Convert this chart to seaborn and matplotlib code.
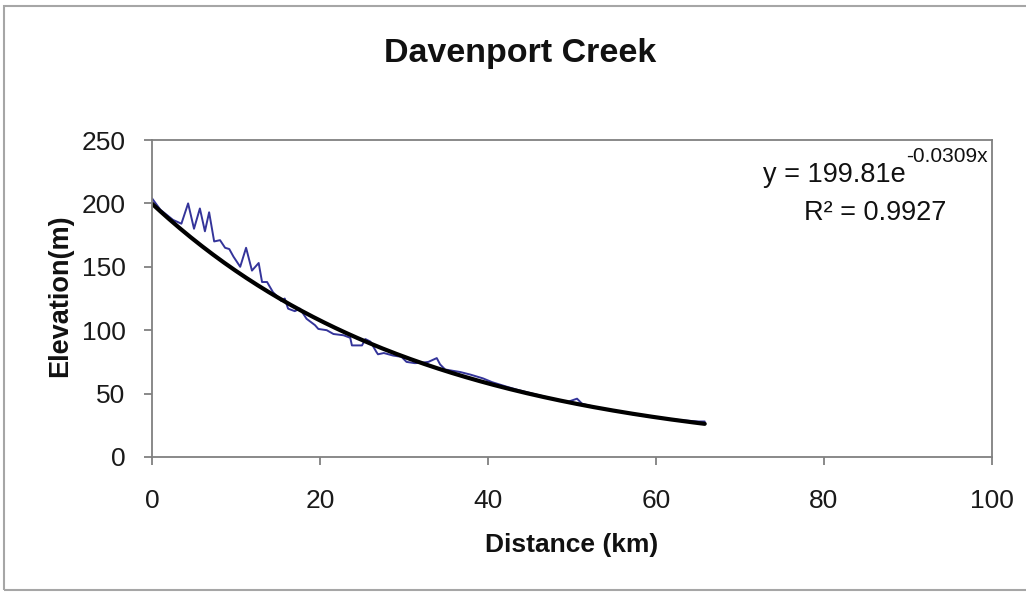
import matplotlib

matplotlib.use("Agg")

import matplotlib.pyplot as plt
import numpy as np
import seaborn as sns
from matplotlib.patches import Rectangle

# Davenport Creek long profile
distance_km = [
    0, 1, 2.5, 3.5, 4.3, 5.0, 5.7, 6.3, 6.8, 7.4, 8.1, 8.7, 9.2, 9.7, 10.5,
    11.2, 11.9, 12.7, 13.1, 13.7, 14.4, 15.0, 15.4, 15.8, 16.2, 17.0, 17.6,
    18.4, 19.4, 19.8, 20.8, 21.6, 22.8, 23.6, 23.8, 25.0, 25.4, 26.0, 26.7,
    26.9, 27.6, 28.7, 29.7, 30.3, 31.3, 32.3, 32.9, 33.9, 34.3, 34.9, 35.8,
    36.7, 37.9, 39.4, 40.5, 42.2, 43.5, 45.0, 46.5, 48.0, 49.5, 50.6, 51.2,
    53.0, 55.0, 57.0, 59.0, 61.0, 63.0, 65.0, 65.8,
]
elevation_m = [
    204, 195, 187, 184, 200, 180, 196, 178, 193, 170, 171, 165, 164, 158, 150,
    165, 147, 153, 138, 138, 130, 126, 123, 125, 117, 115, 117,
    109, 104, 101, 100, 97, 96, 94, 88, 88, 93, 91, 83,
    81, 82, 80, 79, 75, 74, 74.5, 75, 78, 73, 69, 68,
    67, 65, 62, 59, 55.5, 53, 50.5, 48, 45.5, 43.5, 46, 42,
    39, 36.5, 34, 32, 30.5, 29, 28, 28,
]

# exponential trendline as printed on the chart
fit_a = 199.81
fit_b = -0.0309
fit_r2 = 0.9927

x_ticks = [0, 20, 40, 60, 80, 100]
y_ticks = [0, 50, 100, 150, 200, 250]

sns.set_theme(style="white")
plt.rcParams["font.family"] = ["Liberation Sans", "DejaVu Sans"]

axis_grey = "#808080"

fig = plt.figure(figsize=(10.26, 5.92), dpi=100)
ax = fig.add_axes([152 / 1026, 1 - 457 / 592, 840 / 1026, 317 / 592])

sns.lineplot(x=distance_km, y=elevation_m, ax=ax, color="#34349a",
             linewidth=1.4, estimator=None)

trend_x = np.linspace(0, max(distance_km), 200)
trend_y = fit_a * np.exp(fit_b * trend_x)
sns.lineplot(x=trend_x, y=trend_y, ax=ax, color="black", linewidth=3.0,
             estimator=None)

ax.set_xlim(x_ticks[0], x_ticks[-1])
ax.set_ylim(y_ticks[0], y_ticks[-1])
ax.set_xticks(x_ticks)
ax.set_yticks(y_ticks)

for spine in ax.spines.values():
    spine.set_visible(True)
    spine.set_color(axis_grey)
    spine.set_linewidth(1.3)

ax.tick_params(axis="both", direction="out", length=6, width=1.3,
               color=axis_grey, labelsize=19, labelcolor="#1a1a1a")
ax.tick_params(axis="x", pad=17, bottom=True)
ax.tick_params(axis="y", pad=13, left=True)

ax.set_xlabel("Distance (km)", fontsize=19, fontweight="bold", color="#111111")
ax.set_ylabel("Elevation(m)", fontsize=19.5, fontweight="bold", color="#111111")
ax.xaxis.set_label_coords(0.5, -0.24)
ax.yaxis.set_label_coords(-0.094, 0.508)

# trendline label
eq = ax.text(0.727, 0.8675, f"y = {fit_a}e", transform=ax.transAxes,
             ha="left", va="baseline", fontsize=19.5, color="#111111")
ax.annotate(f"{fit_b}x", xy=(1, 0), xycoords=eq, xytext=(0.5, 18.5),
            textcoords="offset points", ha="left", va="baseline",
            fontsize=15, color="#111111")
ax.text(0.861, 0.7476, f"R\u00b2 = {fit_r2}", transform=ax.transAxes,
        ha="center", va="baseline", fontsize=19.5, color="#111111")

fig.text(520 / 1026, 1 - 62 / 592, "Davenport Creek", ha="center",
         va="baseline", fontsize=24.5, fontweight="bold", color="#111111")

# chart area border
fig.patches.append(Rectangle((4 / 1026, 1 - 590 / 592), 1.2, 584 / 592,
                             transform=fig.transFigure, fill=False,
                             edgecolor="#a6a6a6", linewidth=1.5))

fig.savefig("out.png", dpi=100)
plt.close(fig)
